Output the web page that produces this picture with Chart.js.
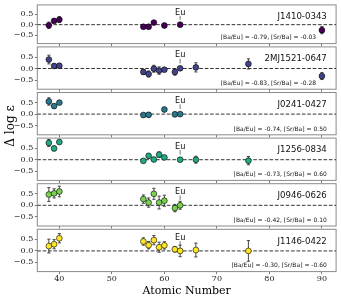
<!DOCTYPE html>
<html><head><meta charset="utf-8">
<script src="https://cdn.jsdelivr.net/npm/chart.js@4/dist/chart.umd.min.js"></script>
<style>
html,body{margin:0;padding:0;background:#fff;}
#wrap{position:relative;width:341px;height:305px;overflow:hidden;background:#fff;}
#wrap canvas{position:absolute;left:0;top:0;}
</style></head><body><div id="wrap"></div>
<script>
// ---- data ----
const stars = ["J1410-0343","2MJ1521-0647","J0241-0427","J1256-0834","J0946-0626","J1146-0422"];
const ratioTexts = [
  "[Ba/Eu] = -0.79, [Sr/Ba] = -0.03",
  "[Ba/Eu] = -0.83, [Sr/Ba] = -0.28",
  "[Ba/Eu] = -0.74, [Sr/Ba] = 0.50",
  "[Ba/Eu] = -0.73, [Sr/Ba] = 0.60",
  "[Ba/Eu] = -0.42, [Sr/Ba] = 0.10",
  "[Ba/Eu] = -0.30, [Sr/Ba] = -0.60"
];
const colors = ["#440154","#414487","#2a788e","#22a884","#7ad151","#fde725"];

const z1 = [38,39,40,56,57,58,60,63,90];
const v1 = [-0.03,0.18,0.24,-0.10,-0.10,0.10,-0.04,0.00,-0.26];
const e1 = [0.15,0.07,0.14,0.05,0.05,0.05,0.04,0.03,0.17];

const z2 = [38,39,40,56,57,58,59,60,62,63,66,76,90];
const v2 = [0.39,0.11,0.12,-0.15,-0.24,-0.01,-0.09,-0.05,-0.15,0.01,0.05,0.20,-0.33];
const e2 = [0.19,0.04,0.04,0.11,0.13,0.15,0.16,0.08,0.14,0.04,0.20,0.22,0.15];

const z3 = [38,39,40,56,57,60,62,63];
const v3 = [0.55,0.35,0.50,-0.04,-0.03,0.20,-0.01,0.00];
const e3 = [0.16,0.08,0.04,0.08,0.10,0.05,0.10,0.04];

const z4 = [38,39,40,56,57,58,59,60,63,66,76];
const v4 = [0.73,0.49,0.77,-0.05,0.17,0.01,0.22,0.10,0.00,0.00,-0.04];
const e4 = [0.15,0.10,0.05,0.05,0.10,0.05,0.12,0.08,0.03,0.15,0.18];

const z5 = [38,39,40,56,57,58,59,60,62,63];
const v5 = [0.47,0.52,0.60,0.27,0.12,0.50,0.12,0.20,-0.12,0.00];
const e5 = [0.30,0.20,0.23,0.18,0.20,0.24,0.28,0.24,0.16,0.17];

const z6 = [38,39,40,56,57,58,59,60,62,63,66,76];
const v6 = [0.21,0.29,0.55,0.41,0.25,0.47,0.16,0.24,0.07,0.00,0.04,0.00];
const e6 = [0.30,0.20,0.20,0.16,0.16,0.20,0.22,0.16,0.12,0.25,0.30,0.45];

const xTickValues = [40,50,60,70,80,90];
const yTickValues = [-0.5,0.0,0.5];
const euZ = 63;
const euLabelY = 0.58;
const euLine = [0.22,0.42];

const XMIN = 35.8, XMAX = 92.7, YMIN = -0.9, YMAX = 0.94;

// ---- layout ----
const W = 341, H = 305;
const TOP0 = 1.3, PITCH = 45.6, PH = 42.3;
const LEFT = 37.3, RIGHT = 339.3;

const zs = [z1,z2,z3,z4,z5,z6], vs = [v1,v2,v3,v4,v5,v6], es = [e1,e2,e3,e4,e5,e6];
const ratioRightFrac = [0.933,0.933,0.969,0.969,0.969,0.969];

const wrap = document.getElementById('wrap');

for (let i = 0; i < 6; i++) {
  const last = i === 5;
  const top = TOP0 + PITCH*i;
  const bottom = top + PH;
  const xAxisH = last ? (H - bottom) : 2.5;
  const cv = document.createElement('canvas');
  cv.width = W; cv.height = H;
  cv.style.width = W + 'px'; cv.style.height = H + 'px';
  wrap.appendChild(cv);

  const pts = zs[i].map((z,k)=>({x:z, y:vs[i][k]}));
  const err = [];
  zs[i].forEach((z,k)=>{
    err.push({x:z, y:vs[i][k]-es[i][k]});
    err.push({x:z, y:vs[i][k]+es[i][k]});
    err.push({x:z, y:null});
  });

  const decor = {
    id: 'decor' + i,
    beforeDatasetsDraw(chart) {
      const {ctx, chartArea: a} = chart;
      ctx.save();
      ctx.strokeStyle = '#8a8a8a';
      ctx.lineWidth = 1;
      ctx.strokeRect(a.left, a.top, a.right - a.left, a.bottom - a.top);
      ctx.restore();
    },
    afterDatasetsDraw(chart) {
      const {ctx, chartArea: a, scales} = chart;
      const w = a.right - a.left;
      ctx.save();
      ctx.fillStyle = '#111';
      ctx.textBaseline = 'middle';
      ctx.textAlign = 'right';
      ctx.font = '8.6px "DejaVu Sans"';
      ctx.fillText(stars[i], a.left + 0.969*w, a.top + 12);
      ctx.font = '6px "DejaVu Sans"';
      ctx.fillText(ratioTexts[i], a.left + ratioRightFrac[i]*w, a.bottom - 5.8);
      ctx.textAlign = 'center';
      ctx.font = '8.2px "DejaVu Sans"';
      ctx.fillText('Eu', scales.x.getPixelForValue(euZ), scales.y.getPixelForValue(euLabelY));
      if (last) {
        ctx.translate(10.5, 126);
        ctx.rotate(-Math.PI/2);
        ctx.font = '12px "DejaVu Serif"';
        ctx.fillStyle = '#000';
        ctx.fillText('Δ log ε', 0, 0);
      }
      ctx.restore();
    }
  };

  new Chart(cv, {
    type: 'scatter',
    data: {
      datasets: [
        { type:'scatter', data: pts, order: 0,
          pointRadius: 2.9, pointHoverRadius: 2.9,
          backgroundColor: colors[i], borderColor: '#000', borderWidth: 0.6 },
        { type:'line', data: err, order: 1, showLine: true, spanGaps: false,
          borderColor: '#333', borderWidth: 0.9,
          pointStyle: 'line', pointRadius: 1.6, pointBorderColor: '#333', pointBorderWidth: 0.9,
          pointBackgroundColor: '#333' },
        { type:'line', data: [{x:euZ,y:euLine[0]},{x:euZ,y:euLine[1]}], order: 2, showLine: true,
          borderColor: '#555', borderWidth: 0.8, pointRadius: 0 },
        { type:'line', data: [{x:XMIN,y:0},{x:XMAX,y:0}], order: 3, showLine: true,
          borderColor: '#333', borderWidth: 1, borderDash: [3.6,1.8], pointRadius: 0 }
      ]
    },
    options: {
      responsive: false, animation: false, devicePixelRatio: 1,
      events: [],
      layout: { padding: { top: top, left: 0, right: W - RIGHT, bottom: H - bottom - xAxisH } },
      plugins: { legend: {display:false}, tooltip: {enabled:false} },
      scales: {
        x: {
          type: 'linear', min: XMIN, max: XMAX,
          afterBuildTicks: s => { s.ticks = xTickValues.map(v=>({value:v})); },
          afterFit: s => { s.height = xAxisH; s.paddingLeft = 0; s.paddingRight = 0; },
          grid: { display: true, drawOnChartArea: false, drawTicks: true, tickLength: 2.5, color: '#555', lineWidth: 0.8 },
          border: { display: false },
          ticks: { display: last, padding: 0.2, color: '#222', maxRotation: 0, autoSkip: false,
                   font: { family: 'DejaVu Serif', size: 8 }, callback: v => String(v) },
          title: { display: last, text: 'Atomic Number', color: '#000',
                   font: { family: 'DejaVu Serif', size: 11, lineHeight: 1.2 }, padding: { top: 0, bottom: 7 } }
        },
        y: {
          type: 'linear', min: YMIN, max: YMAX,
          afterBuildTicks: s => { s.ticks = yTickValues.map(v=>({value:v})); },
          afterFit: s => { s.width = LEFT; s.paddingTop = 0; s.paddingBottom = 0; },
          grid: { display: true, drawOnChartArea: false, drawTicks: true, tickLength: 2.5, color: '#555', lineWidth: 0.8 },
          border: { display: false },
          ticks: { padding: 1.5, color: '#222', font: { family: 'DejaVu Serif', size: 8 },
                   callback: v => (v < 0 ? '\u2212' : '') + Math.abs(v).toFixed(1) }
        }
      }
    },
    plugins: [decor]
  });
}
</script></body></html>
